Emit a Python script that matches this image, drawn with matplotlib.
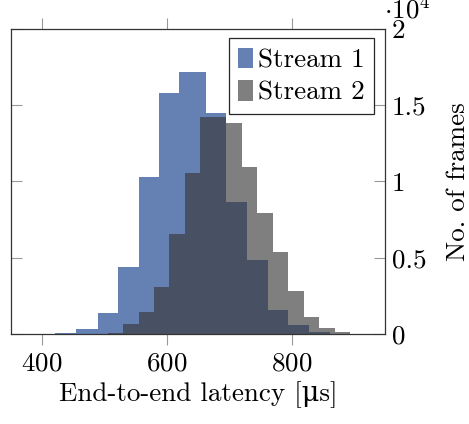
import matplotlib
matplotlib.use("Agg")
import matplotlib.pyplot as plt
from matplotlib.ticker import FuncFormatter
import numpy as np

# bin edges [µs] and frame counts
s1_edges = [421, 455, 489, 522, 555, 588, 620, 662, 695, 729, 762, 794, 828, 861]
s1_counts = [60, 350, 1380, 4410, 10270, 15800, 17160, 14510, 8680, 4850, 1570, 590, 110]

s2_edges = [505, 530, 555, 580, 604, 629, 653, 695, 720, 745, 770, 795, 820, 844, 869, 894, 919]
s2_counts = [85, 640, 1440, 3100, 6560, 10540, 14250, 13820, 10930, 7920, 5360, 2840, 1130, 370, 110, 30]

labels = ['Stream 1', 'Stream 2']
x_ticks = [400, 600, 800]
y_ticks = [0, 5000, 10000, 15000, 20000]

plt.rcParams['font.family'] = ['cmr10', 'DejaVu Serif']
plt.rcParams['mathtext.fontset'] = 'cm'
plt.rcParams['axes.formatter.use_mathtext'] = True
plt.rcParams['font.size'] = 19.5

fig = plt.figure(figsize=(4.69, 4.24), dpi=100)
ax = fig.add_axes([0.0235, 0.2123, 0.7975, 0.7193])

e1 = np.array(s1_edges, dtype=float)
e2 = np.array(s2_edges, dtype=float)
ax.bar(e1[:-1], s1_counts, width=np.diff(e1), align='edge',
       color=(0.396, 0.502, 0.698), linewidth=0, label=labels[0])
ax.bar(e2[:-1], s2_counts, width=np.diff(e2), align='edge',
       color=(0.216, 0.216, 0.216), alpha=0.64, linewidth=0, label=labels[1])

ax.set_xlim(350, 950)
ax.set_ylim(0, 20000)
ax.set_xticks(x_ticks)
ax.set_yticks(y_ticks)
ax.yaxis.set_major_formatter(FuncFormatter(lambda v, p: f'{v / 1e4:g}'))

ax.tick_params(axis='x', direction='out', top=True, bottom=True, length=8,
               width=0.8, color='0.6', pad=5)
ax.tick_params(axis='y', direction='in', left=True, right=True, labelleft=False,
               labelright=True, length=8, width=0.8, color='0.6', pad=5)
for sp in ax.spines.values():
    sp.set_linewidth(0.9)
    sp.set_color('0.2')

ax.set_xlabel('End-to-end latency [\u03bcs]', labelpad=4)
ax.yaxis.set_label_position('right')
ax.set_ylabel('No. of frames', labelpad=14)

ax.text(0.997, 1.035, r'$\cdot 10^4$', transform=ax.transAxes, ha='left', va='baseline',
        fontsize=19.5)

leg = ax.legend(loc='upper right', bbox_to_anchor=(0.971, 0.97), frameon=True, fancybox=False,
                edgecolor='0.15', framealpha=1, handlelength=0.52, handleheight=0.78,
                handletextpad=0.2, borderpad=0.35, labelspacing=0.3, borderaxespad=0)
leg.get_frame().set_linewidth(0.9)

fig.savefig('out.png', dpi=100)
